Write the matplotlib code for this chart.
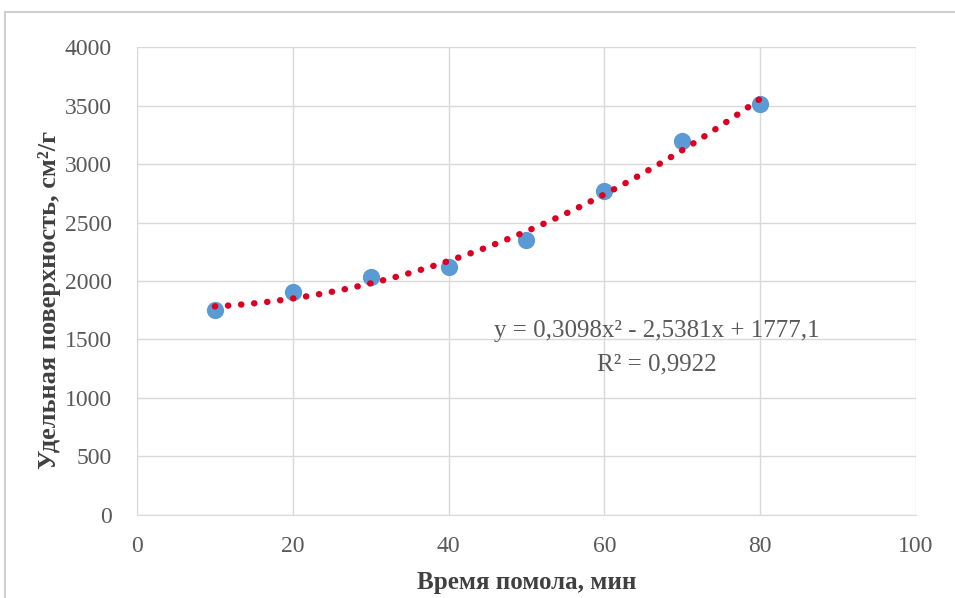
import numpy as np
import matplotlib
matplotlib.use('Agg')
import matplotlib.pyplot as plt
from matplotlib.patches import Rectangle

# grinding time, min
grind_time = [10, 20, 30, 40, 50, 60, 70, 80]
# specific surface, cm2/g
surface = [1750, 1910, 2030, 2120, 2350, 2770, 3200, 3515]
# trendline coefficients as printed on the chart
trend_coef = [0.3098, -2.5381, 1777.1]
x_ticks = [0, 20, 40, 60, 80, 100]
y_ticks = [0, 500, 1000, 1500, 2000, 2500, 3000, 3500, 4000]

plt.rcParams['font.family'] = ['Liberation Serif', 'DejaVu Serif']

fig = plt.figure(figsize=(9.55, 5.98), dpi=100)
fig.patches.append(Rectangle((0.005, -0.1), 1.2, 1.08, transform=fig.transFigure,
                             fill=False, edgecolor='#d0d0d0', linewidth=1.5))
ax = fig.add_axes([0.1435, 0.1388, 0.8155, 0.7826])

xs = np.linspace(min(grind_time), max(grind_time), 200)
ax.plot(xs, np.polyval(trend_coef, xs), color='#dc0022', linewidth=4.6,
        linestyle=(0, (0.05, 2.0)), dash_capstyle='round', zorder=3)
ax.scatter(grind_time, surface, s=130, color='#5b9bd5', zorder=2)

ax.set_xlim(0, 100)
ax.set_ylim(0, 4000)
ax.set_xticks(x_ticks)
ax.set_yticks(y_ticks)
ax.grid(True, color='#d9d9d9', linewidth=1)
ax.set_axisbelow(True)
for side in ['top', 'right']:
    ax.spines[side].set_visible(False)
for side in ['left', 'bottom']:
    ax.spines[side].set_color('#d9d9d9')
ax.tick_params(length=0, labelsize=17, labelcolor='#595959')
ax.tick_params(axis='y', pad=18)
ax.tick_params(axis='x', pad=15)

ax.set_xlabel('Время помола, мин', fontsize=18, fontweight='bold', color='#404040')
ax.set_ylabel('Удельная поверхность, см²/г', fontsize=19, fontweight='bold', color='#404040')
ax.xaxis.set_label_coords(0.5, -0.12)
ax.yaxis.set_label_coords(-0.097, 0.46)

ax.text(66.8, 1570, 'y = 0,3098x² - 2,5381x + 1777,1', fontsize=18, color='#595959',
        ha='center', va='center')
ax.text(66.7, 1290, 'R² = 0,9922', fontsize=18, color='#595959', ha='center', va='center')

fig.savefig('out.png', dpi=100)
